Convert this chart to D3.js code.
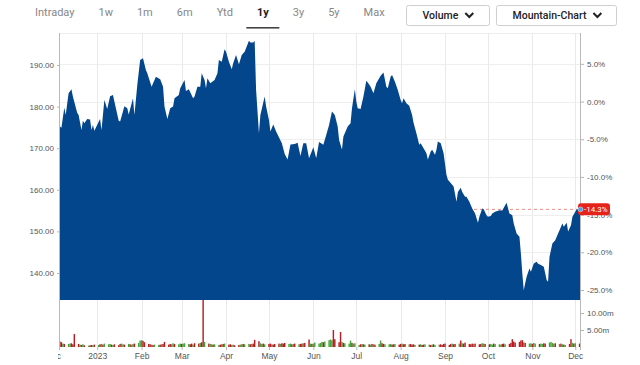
<!DOCTYPE html>
<html>
<head>
<meta charset="utf-8">
<script src="https://cdn.jsdelivr.net/npm/d3@7"></script>
<style>
    html, body { margin: 0; padding: 0; background: #fff; }
    svg { display: block; font-family: Roboto, "Noto Sans", sans-serif; }
</style>
</head>
<body>
<svg id="chart" width="640" height="365"></svg>
<script>
const rangeTabs = ["Intraday", "1w", "1m", "6m", "Ytd", "1y", "3y", "5y", "Max"];
const activeTab = "1y";
const menuButtons = ["Volume", "Mountain-Chart"];

// closing prices
const priceSeries = [
    ["2022-12-06", 175.2], ["2022-12-07", 174.9], ["2022-12-09", 179.7], ["2022-12-10", 178], ["2022-12-12", 183.2],
    ["2022-12-14", 184.2], ["2022-12-15", 182.4], ["2022-12-18", 178.5], ["2022-12-19", 178], ["2022-12-21", 174.4],
    ["2022-12-22", 176.6], ["2022-12-23", 176], ["2022-12-25", 177], ["2022-12-27", 176.9], ["2022-12-28", 174.4],
    ["2022-12-29", 175.6], ["2022-12-30", 174.2], ["2023-01-03", 177], ["2023-01-04", 174.4], ["2023-01-06", 181.6],
    ["2023-01-08", 179.4], ["2023-01-10", 182.5], ["2023-01-12", 182.8], ["2023-01-13", 181.2], ["2023-01-16", 176.6],
    ["2023-01-17", 176.4], ["2023-01-20", 180.1], ["2023-01-22", 179.6], ["2023-01-23", 178.1], ["2023-01-26", 182],
    ["2023-01-27", 178], ["2023-01-29", 185.2], ["2023-01-31", 191.2], ["2023-02-02", 191.6], ["2023-02-04", 188.8],
    ["2023-02-05", 188], ["2023-02-08", 184.8], ["2023-02-11", 187.2], ["2023-02-14", 186.6], ["2023-02-16", 184.8],
    ["2023-02-17", 180], ["2023-02-19", 177], ["2023-02-21", 179.6], ["2023-02-23", 180], ["2023-02-24", 182],
    ["2023-02-27", 182.8], ["2023-02-28", 184.4], ["2023-03-03", 186.4], ["2023-03-04", 183.75], ["2023-03-06", 184.2],
    ["2023-03-09", 182], ["2023-03-10", 182.4], ["2023-03-12", 184.8], ["2023-03-14", 184.8], ["2023-03-15", 188],
    ["2023-03-17", 186.4], ["2023-03-18", 184.4], ["2023-03-19", 186.8], ["2023-03-21", 185.6], ["2023-03-24", 186.4],
    ["2023-03-26", 188], ["2023-03-27", 191.2], ["2023-03-29", 190.8], ["2023-03-31", 193.8], ["2023-04-01", 193.2],
    ["2023-04-03", 190.8], ["2023-04-05", 189], ["2023-04-06", 190.4], ["2023-04-08", 192.4], ["2023-04-10", 190.2],
    ["2023-04-12", 192.4], ["2023-04-14", 193.2], ["2023-04-17", 195.8], ["2023-04-18", 195.4], ["2023-04-20", 195.4],
    ["2023-04-21", 195.8], ["2023-04-22", 184], ["2023-04-24", 173.6], ["2023-04-25", 178], ["2023-04-28", 182.4],
    ["2023-04-29", 180], ["2023-05-01", 176.8], ["2023-05-02", 174], ["2023-05-04", 175.7], ["2023-05-06", 174],
    ["2023-05-10", 171.2], ["2023-05-12", 168.6], ["2023-05-14", 167.3], ["2023-05-16", 170.9], ["2023-05-19", 171],
    ["2023-05-21", 171.3], ["2023-05-23", 168.1], ["2023-05-25", 171.2], ["2023-05-27", 171.2], ["2023-05-29", 167.6],
    ["2023-06-01", 170.2], ["2023-06-03", 167.6], ["2023-06-05", 171.5], ["2023-06-08", 170.8], ["2023-06-10", 173.2],
    ["2023-06-12", 175.6], ["2023-06-14", 178.8], ["2023-06-16", 178], ["2023-06-18", 175.2], ["2023-06-19", 172],
    ["2023-06-21", 169.7], ["2023-06-22", 172.8], ["2023-06-25", 175.2], ["2023-06-27", 176], ["2023-06-28", 179.6],
    ["2023-06-30", 184.2], ["2023-07-01", 181.2], ["2023-07-02", 179.6], ["2023-07-04", 179.4], ["2023-07-06", 182.4],
    ["2023-07-08", 186.2], ["2023-07-09", 185.8], ["2023-07-11", 184.8], ["2023-07-13", 183.2], ["2023-07-15", 185.6],
    ["2023-07-18", 187.4], ["2023-07-20", 188.2], ["2023-07-22", 184.8], ["2023-07-23", 184.4], ["2023-07-25", 187.2],
    ["2023-07-26", 187.6], ["2023-07-28", 186], ["2023-07-30", 184], ["2023-08-01", 181.6], ["2023-08-02", 180.8],
    ["2023-08-03", 182], ["2023-08-05", 180.8], ["2023-08-07", 180.2], ["2023-08-09", 178], ["2023-08-10", 176.1],
    ["2023-08-12", 173.6], ["2023-08-14", 170.8], ["2023-08-15", 171.2], ["2023-08-17", 170], ["2023-08-19", 168.8],
    ["2023-08-20", 167.3], ["2023-08-22", 169.2], ["2023-08-23", 169.6], ["2023-08-25", 168.4], ["2023-08-26", 169.6],
    ["2023-08-27", 171.6], ["2023-08-29", 171.2], ["2023-08-31", 168.8], ["2023-09-02", 163.6], ["2023-09-03", 162.4],
    ["2023-09-06", 161.2], ["2023-09-07", 160.8], ["2023-09-09", 157.1], ["2023-09-10", 159.5], ["2023-09-12", 160.5],
    ["2023-09-13", 159.5], ["2023-09-15", 158.3], ["2023-09-16", 158.3], ["2023-09-18", 157.1], ["2023-09-20", 155.5],
    ["2023-09-22", 154.3], ["2023-09-24", 152.1], ["2023-09-25", 153.5], ["2023-09-27", 155.5], ["2023-09-28", 155.3],
    ["2023-09-30", 153.9], ["2023-10-01", 153.5], ["2023-10-03", 153.7], ["2023-10-04", 154.3], ["2023-10-06", 154.7],
    ["2023-10-09", 155.1], ["2023-10-11", 155], ["2023-10-13", 156.3], ["2023-10-14", 156.9], ["2023-10-16", 154.3],
    ["2023-10-18", 153.9], ["2023-10-19", 151.9], ["2023-10-21", 149.5], ["2023-10-23", 148.7], ["2023-10-24", 144.7],
    ["2023-10-25", 139.9], ["2023-10-26", 135.9], ["2023-10-28", 139.1], ["2023-10-30", 141.1], ["2023-10-31", 140.3],
    ["2023-11-02", 142.3], ["2023-11-04", 142.7], ["2023-11-05", 142.2], ["2023-11-07", 141.9], ["2023-11-09", 141.5],
    ["2023-11-11", 138.3], ["2023-11-12", 137.9], ["2023-11-13", 143.9], ["2023-11-15", 147.1], ["2023-11-17", 147.9],
    ["2023-11-19", 149.5], ["2023-11-20", 150.3], ["2023-11-22", 151.9], ["2023-11-23", 151.1], ["2023-11-25", 152.1],
    ["2023-11-26", 150], ["2023-11-28", 151.5], ["2023-11-29", 153.5], ["2023-12-01", 154.7], ["2023-12-02", 155.3],
    ["2023-12-04", 155.2], ["2023-12-05", 155.3]
];
const lastChangePct = -14.3;

// daily volume in millions, one row per week (first week starts Tue 6 Dec 2022)
const volumeMillions = [
    1.6, 1.4, 1.0, 0.9,
    0.9, 1.0, 1.1, 0.8, 3.8,
    0.9, 0.7, 0.6, 0.8, 0.5,
    0.4, 0.5, 0.6, 0.5, 0.7,
    0.6, 0.8, 0.9, 0.7, 1.0,
    0.8, 0.9, 0.7, 0.6, 0.8,
    0.5, 0.9, 1.0, 0.8, 0.7,
    0.9, 0.8, 0.7, 0.9, 1.0,
    1.2, 1.9, 2.0, 1.8, 1.4,
    0.9, 0.8, 0.7, 0.6, 0.7,
    0.6, 0.7, 0.8, 0.9, 1.5,
    0.7, 0.9, 0.8, 1.1, 0.9,
    0.8, 1.0, 0.9, 1.0, 1.1,
    0.9, 0.8, 1.0, 0.7, 1.1,
    1.0, 1.2, 1.4, 14.5, 1.5,
    1.0, 0.9, 0.8, 0.7, 0.8,
    0.6, 0.7, 0.8, 0.9, 1.0,
    0.7, 0.8, 0.6, 0.7, 0.5,
    0.6, 0.7, 0.8, 0.9, 0.8,
    0.9, 0.8, 0.9, 1.0, 2.1,
    1.7, 1.1, 0.9, 1.0, 0.8,
    0.9, 1.0, 0.8, 0.7, 0.9,
    1.0, 0.9, 1.1, 1.0, 1.2,
    0.9, 1.0, 0.8, 0.9, 1.0,
    0.8, 0.9, 1.0, 1.1, 1.2,
    2.2, 1.0, 0.9, 1.0, 1.3,
    1.0, 1.2, 1.5, 1.4, 1.6,
    2.0, 2.2, 2.0, 5.0, 2.3,
    1.4, 4.4, 1.5, 1.2, 1.1,
    1.0, 1.9, 1.2, 1.0, 1.1,
    0.6, 0.8, 0.9, 0.8, 0.7,
    0.8, 0.7, 0.9, 0.8, 0.7,
    0.9, 1.9, 1.1, 0.9, 0.8,
    0.8, 0.9, 0.7, 0.8, 0.9,
    0.7, 0.9, 1.0, 0.8, 0.9,
    0.8, 0.9, 0.7, 0.8, 0.6,
    0.7, 0.8, 0.6, 0.7, 0.8,
    0.7, 0.6, 0.7, 0.8, 0.6,
    0.7, 0.8, 0.6, 0.9, 1.0,
    0.6, 0.9, 1.0, 0.8, 0.9,
    1.0, 1.9, 1.1, 1.0, 1.3,
    0.9, 0.8, 1.0, 0.9, 1.0,
    0.8, 0.9, 1.1, 1.0, 0.9,
    0.8, 0.9, 0.7, 1.0, 0.9,
    0.8, 0.7, 0.9, 1.0, 0.8,
    0.9, 1.2, 2.3, 1.6, 1.3,
    1.5, 1.9, 2.0, 1.4, 1.2,
    1.0, 1.1, 0.9, 1.2, 1.0,
    0.9, 1.0, 0.9, 1.1, 1.0,
    1.3, 1.5, 1.2, 1.0, 1.1,
    0.9, 1.0, 0.8, 0.7, 0.6,
    0.9, 2.3, 1.2, 1.0, 1.1,
    1.0, 0.9
];
// u = up day (green), d = down day (red)
const volumeDirs = [
    "ddud", "uuddd", "dudud", "uddud", "ududu", "uudud", "dduud", "uduud", "uuudd", "ddudu",
    "ududd", "dduud", "uuduu", "uddud", "duddu", "duudu", "ududu", "dduud", "duudu", "ududd",
    "duudu", "ddudd", "duddd", "uudud", "uddud", "duduu", "uuudu", "uuudd", "ddudu", "uuduu",
    "ududu", "dudud", "uuddu", "uuddu", "ddudd", "udddu", "duddu", "ududu", "udddd", "ddudd",
    "ududd", "dddud", "dduud", "duudu", "uuddu", "ddddd", "dddud", "uuduu", "duudd", "uuuud",
    "ududu", "ddudu", "du"
].join("");

const priceTicks = [140, 150, 160, 170, 180, 190];
const pctTicks = [5, 0, -5, -10, -15, -20, -25];
const volumeTicks = [5, 10];
const monthTicks = ["2022-12-01", "2023-01-01", "2023-02-01", "2023-03-01", "2023-04-01", "2023-05-01", "2023-06-01",
    "2023-07-01", "2023-08-01", "2023-09-01", "2023-10-01", "2023-11-01", "2023-12-01"];
const monthLabels = ["Dec", "2023", "Feb", "Mar", "Apr", "May", "Jun", "Jul", "Aug", "Sep", "Oct", "Nov", "Dec"];

const parse = d3.timeParse("%Y-%m-%d");
const prices = priceSeries.map(d => ({ date: parse(d[0]), close: d[1] }));
const startDate = parse("2022-12-06");
const endDate = parse("2023-12-05");

const tradingDays = d3.timeDay.range(startDate, d3.timeDay.offset(endDate, 1))
    .filter(d => d.getDay() !== 0 && d.getDay() !== 6);
const volumes = tradingDays.map((d, i) => ({ date: d, vol: volumeMillions[i], up: volumeDirs[i] === "u" }));

const plotLeft = 60, plotRight = 581, plotTop = 33, priceBottom = 300, volBottom = 347;
const svg = d3.select("#chart");

const x = d3.scaleTime().domain([startDate, endDate]).range([plotLeft, plotRight]);
const yPrice = d3.scaleLinear().domain([140, 190]).range([273, 65]);
const lastClose = prices[prices.length - 1].close;
const basePrice = lastClose / (1 + lastChangePct / 100);
const yPct = d3.scaleLinear().domain([-25, 5])
    .range([yPrice(basePrice * 0.75), yPrice(basePrice * 1.05)]);
const yVol = d3.scaleLinear().domain([0, 10]).range([volBottom, 313]);

const defs = svg.append("defs");
defs.append("clipPath").attr("id", "plotClip")
    .append("rect").attr("x", plotLeft).attr("y", plotTop).attr("width", plotRight - plotLeft).attr("height", priceBottom - plotTop);
defs.append("clipPath").attr("id", "volClip")
    .append("rect").attr("x", plotLeft).attr("y", priceBottom).attr("width", plotRight - plotLeft).attr("height", volBottom - priceBottom);
defs.append("clipPath").attr("id", "labelClip")
    .append("rect").attr("x", 58).attr("y", -2).attr("width", 600).attr("height", 20);

// ---- top menu
const tabs = svg.append("g").attr("class", "tabs");
let tx = 35;
rangeTabs.forEach(t => {
    const active = t === activeTab;
    const txt = tabs.append("text")
        .attr("x", tx).attr("y", 16)
        .style("font-size", "11px")
        .style("font-weight", active ? 700 : 400)
        .attr("fill", active ? "#222" : "#868686")
        .text(t);
    const w = txt.node().getComputedTextLength();
    if (active) {
        tabs.append("rect")
            .attr("x", tx + w / 2 - 16.5).attr("y", 27)
            .attr("width", 33).attr("height", 1.6)
            .attr("fill", "#444");
    }
    tx += w + 24;
});

const buttonBoxes = [[406.5, 83], [496.5, 120]];
menuButtons.forEach((b, i) => {
    const [bx, bw] = buttonBoxes[i];
    const g = svg.append("g");
    g.append("rect")
        .attr("x", bx).attr("y", 5.5).attr("width", bw).attr("height", 20)
        .attr("rx", 2).attr("fill", "#fff").attr("stroke", "#cfcfcf");
    const txt = g.append("text")
        .attr("x", bx + 16).attr("y", 19)
        .style("font-size", "10.5px").style("font-weight", 500)
        .attr("fill", "#222").text(b);
    const w = txt.node().getComputedTextLength();
    const cx = bx + 16 + w + 11;
    g.append("path")
        .attr("d", `M${cx - 4},${13} L${cx},${17} L${cx + 4},${13}`)
        .attr("fill", "none").attr("stroke", "#222").attr("stroke-width", 2);
});

// ---- grid
const grid = svg.append("g").attr("class", "grid");
grid.append("line")
    .attr("x1", plotLeft).attr("x2", plotRight).attr("y1", plotTop + 0.5).attr("y2", plotTop + 0.5)
    .attr("stroke", "#eeeeee");
grid.selectAll(".vgrid")
    .data(monthTicks.map(parse).filter(d => d >= startDate))
    .enter().append("line")
    .attr("x1", d => Math.round(x(d)) + 0.5).attr("x2", d => Math.round(x(d)) + 0.5)
    .attr("y1", plotTop).attr("y2", volBottom)
    .attr("stroke", "#e9e9e9");
grid.selectAll(".hgrid")
    .data(pctTicks)
    .enter().append("line")
    .attr("x1", plotLeft).attr("x2", plotRight)
    .attr("y1", d => Math.round(yPct(d)) + 0.5).attr("y2", d => Math.round(yPct(d)) + 0.5)
    .attr("stroke", "#eeeeee");

// ---- last price dashed line (behind the mountain)
svg.append("line")
    .attr("x1", plotLeft).attr("x2", 578)
    .attr("y1", yPrice(lastClose)).attr("y2", yPrice(lastClose))
    .attr("stroke", "#f08a85").attr("stroke-dasharray", "3,3").attr("stroke-width", 1);

// ---- mountain
const area = d3.area()
    .x(d => x(d.date))
    .y0(priceBottom)
    .y1(d => yPrice(d.close));
svg.append("path")
    .datum(prices)
    .attr("clip-path", "url(#plotClip)")
    .attr("d", area)
    .attr("fill", "#04468b");

// ---- volume bars
const dayW = x(d3.timeDay.offset(startDate, 1)) - x(startDate);
svg.append("g").attr("clip-path", "url(#volClip)")
    .selectAll("rect")
    .data(volumes)
    .enter().append("rect")
    .attr("x", d => x(d.date) - dayW / 2)
    .attr("width", dayW)
    .attr("y", d => Math.max(priceBottom, yVol(d.vol)))
    .attr("height", d => volBottom - Math.max(priceBottom, yVol(d.vol)))
    .attr("fill", d => d.up ? "#45a33c" : "#bd1a1f");

// ---- axes
function styleAxis(g) {
    g.select(".domain").remove();
    g.selectAll(".tick line").attr("stroke", "#b5b5b5");
    g.selectAll(".tick text").attr("fill", "#555").style("font-size", "8px");
}

svg.append("g")
    .attr("transform", `translate(${plotLeft},0)`)
    .call(d3.axisLeft(yPrice).tickValues(priceTicks).tickFormat(d3.format(".2f")).tickSize(3).tickPadding(3))
    .call(styleAxis);

svg.append("g")
    .attr("transform", `translate(${plotRight},0)`)
    .call(d3.axisRight(yPct).tickValues(pctTicks).tickFormat(d => d.toFixed(1) + "%").tickSize(3).tickPadding(3))
    .call(styleAxis);

svg.append("g")
    .attr("transform", `translate(${plotRight},0)`)
    .call(d3.axisRight(yVol).tickValues(volumeTicks).tickFormat(d => d.toFixed(2) + "m").tickSize(3).tickPadding(3))
    .call(styleAxis);

svg.append("g")
    .attr("transform", `translate(0,${volBottom})`)
    .attr("clip-path", "url(#labelClip)")
    .call(d3.axisBottom(x).tickValues(monthTicks.map(parse)).tickFormat((d, i) => monthLabels[i]).tickSize(3).tickPadding(3))
    .call(styleAxis)
    .selectAll(".tick text").style("font-size", "8.5px");

[plotLeft, plotRight].forEach(ax => {
    svg.append("line")
        .attr("x1", ax - 0.5).attr("x2", ax - 0.5)
        .attr("y1", plotTop).attr("y2", volBottom + 3)
        .attr("stroke", "#b9b9b9");
});

// ---- last price badge (sits on top of the -15.0% label, as in the original)
const badgeY = yPrice(lastClose);
svg.append("rect")
    .attr("x", 578).attr("y", badgeY - 6).attr("width", 32).attr("height", 12)
    .attr("rx", 3).attr("fill", "#e5231b");
svg.append("text")
    .attr("x", 584).attr("y", badgeY + 3)
    .style("font-size", "8px").attr("fill", "#fff")
    .text(lastChangePct.toFixed(1) + "%");
svg.append("circle")
    .attr("cx", plotRight - 0.5).attr("cy", badgeY).attr("r", 2.4)
    .attr("fill", "#4aa3e0").attr("stroke", "#d8ecfa").attr("stroke-width", 0.6);
</script>
</body>
</html>
